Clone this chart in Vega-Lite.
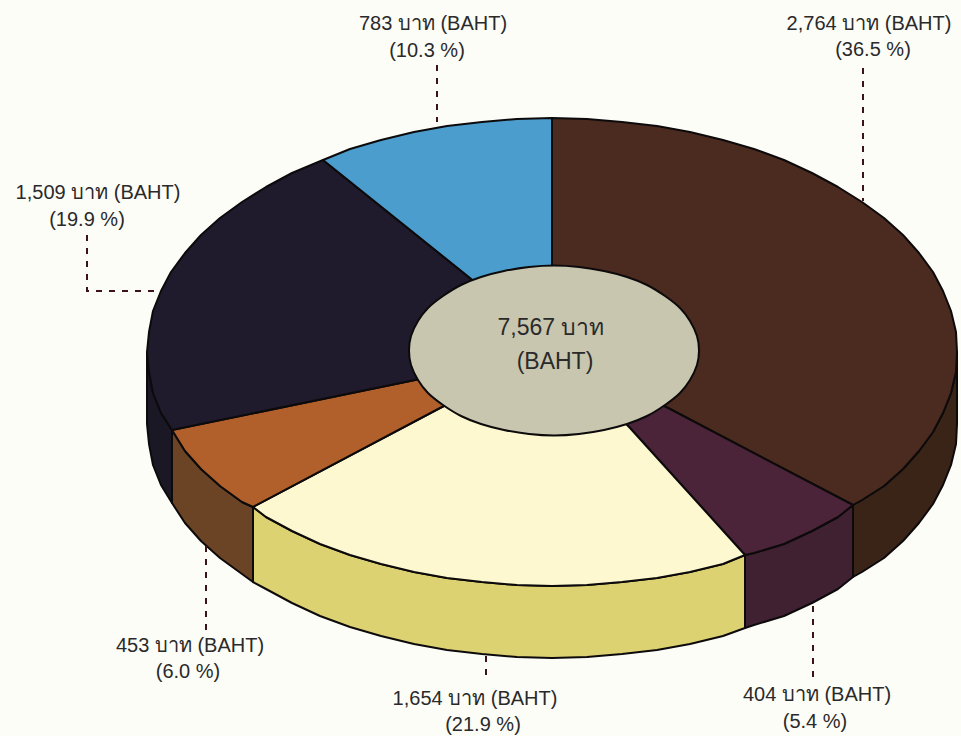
{"$schema":"https://vega.github.io/schema/vega-lite/v6.json","width":961,"height":736,"padding":0,"autosize":"none","background":"#fdfdf8","view":{"stroke":null},
"datasets":{
"shapes":[
{"s":"navy wall","n":0,"x":172,"y":430},{"s":"navy wall","n":1,"x":161,"y":413},{"s":"navy wall","n":2,"x":153,"y":393},{"s":"navy wall","n":3,"x":149,"y":372},{"s":"navy wall","n":4,"x":147,"y":352},{"s":"navy wall","n":5,"x":147,"y":424},{"s":"navy wall","n":6,"x":149,"y":444},{"s":"navy wall","n":7,"x":153,"y":465},{"s":"navy wall","n":8,"x":161,"y":485},{"s":"navy wall","n":9,"x":172,"y":503},
{"s":"orange wall","n":0,"x":253,"y":507},{"s":"orange wall","n":1,"x":242,"y":502},{"s":"orange wall","n":2,"x":220,"y":486},{"s":"orange wall","n":3,"x":201,"y":469},{"s":"orange wall","n":4,"x":185,"y":451},{"s":"orange wall","n":5,"x":172,"y":430},{"s":"orange wall","n":6,"x":172,"y":503},{"s":"orange wall","n":7,"x":185,"y":523},{"s":"orange wall","n":8,"x":201,"y":541},{"s":"orange wall","n":9,"x":220,"y":558},{"s":"orange wall","n":10,"x":242,"y":574},{"s":"orange wall","n":11,"x":253,"y":582},
{"s":"cream wall","n":0,"x":745,"y":555},{"s":"cream wall","n":1,"x":723,"y":564},{"s":"cream wall","n":2,"x":690,"y":572},{"s":"cream wall","n":3,"x":657,"y":578},{"s":"cream wall","n":4,"x":622,"y":582},{"s":"cream wall","n":5,"x":587,"y":585},{"s":"cream wall","n":6,"x":552,"y":586},{"s":"cream wall","n":7,"x":517,"y":585},{"s":"cream wall","n":8,"x":482,"y":582},{"s":"cream wall","n":9,"x":447,"y":578},{"s":"cream wall","n":10,"x":414,"y":572},{"s":"cream wall","n":11,"x":381,"y":564},{"s":"cream wall","n":12,"x":350,"y":555},{"s":"cream wall","n":13,"x":320,"y":544},{"s":"cream wall","n":14,"x":292,"y":531},{"s":"cream wall","n":15,"x":266,"y":517},{"s":"cream wall","n":16,"x":253,"y":507},{"s":"cream wall","n":17,"x":253,"y":582},{"s":"cream wall","n":18,"x":266,"y":589},{"s":"cream wall","n":19,"x":292,"y":603},{"s":"cream wall","n":20,"x":320,"y":616},{"s":"cream wall","n":21,"x":350,"y":627},{"s":"cream wall","n":22,"x":381,"y":636},{"s":"cream wall","n":23,"x":414,"y":644},{"s":"cream wall","n":24,"x":447,"y":650},{"s":"cream wall","n":25,"x":482,"y":654},{"s":"cream wall","n":26,"x":517,"y":657},{"s":"cream wall","n":27,"x":552,"y":658},{"s":"cream wall","n":28,"x":587,"y":657},{"s":"cream wall","n":29,"x":622,"y":654},{"s":"cream wall","n":30,"x":657,"y":650},{"s":"cream wall","n":31,"x":690,"y":644},{"s":"cream wall","n":32,"x":723,"y":636},{"s":"cream wall","n":33,"x":745,"y":628},
{"s":"purple wall","n":0,"x":853,"y":505},{"s":"purple wall","n":1,"x":838,"y":517},{"s":"purple wall","n":2,"x":812,"y":531},{"s":"purple wall","n":3,"x":784,"y":544},{"s":"purple wall","n":4,"x":754,"y":553},{"s":"purple wall","n":5,"x":745,"y":555},{"s":"purple wall","n":6,"x":745,"y":628},{"s":"purple wall","n":7,"x":754,"y":625},{"s":"purple wall","n":8,"x":784,"y":616},{"s":"purple wall","n":9,"x":812,"y":603},{"s":"purple wall","n":10,"x":838,"y":589},{"s":"purple wall","n":11,"x":853,"y":577},
{"s":"brown wall","n":0,"x":957,"y":352},{"s":"brown wall","n":1,"x":956,"y":372},{"s":"brown wall","n":2,"x":951,"y":393},{"s":"brown wall","n":3,"x":943,"y":413},{"s":"brown wall","n":4,"x":933,"y":432},{"s":"brown wall","n":5,"x":919,"y":451},{"s":"brown wall","n":6,"x":903,"y":469},{"s":"brown wall","n":7,"x":884,"y":486},{"s":"brown wall","n":8,"x":862,"y":500},{"s":"brown wall","n":9,"x":853,"y":505},{"s":"brown wall","n":10,"x":853,"y":577},{"s":"brown wall","n":11,"x":862,"y":572},{"s":"brown wall","n":12,"x":884,"y":558},{"s":"brown wall","n":13,"x":903,"y":541},{"s":"brown wall","n":14,"x":919,"y":523},{"s":"brown wall","n":15,"x":933,"y":504},{"s":"brown wall","n":16,"x":943,"y":485},{"s":"brown wall","n":17,"x":951,"y":465},{"s":"brown wall","n":18,"x":956,"y":444},{"s":"brown wall","n":19,"x":957,"y":424},
{"s":"brown top","n":0,"x":552,"y":266},{"s":"brown top","n":1,"x":552,"y":118},{"s":"brown top","n":2,"x":587,"y":119},{"s":"brown top","n":3,"x":622,"y":122},{"s":"brown top","n":4,"x":657,"y":126},{"s":"brown top","n":5,"x":690,"y":132},{"s":"brown top","n":6,"x":723,"y":140},{"s":"brown top","n":7,"x":754,"y":149},{"s":"brown top","n":8,"x":784,"y":160},{"s":"brown top","n":9,"x":812,"y":173},{"s":"brown top","n":10,"x":838,"y":187},{"s":"brown top","n":11,"x":862,"y":202},{"s":"brown top","n":12,"x":884,"y":218},{"s":"brown top","n":13,"x":903,"y":235},{"s":"brown top","n":14,"x":919,"y":253},{"s":"brown top","n":15,"x":933,"y":272},{"s":"brown top","n":16,"x":943,"y":291},{"s":"brown top","n":17,"x":951,"y":311},{"s":"brown top","n":18,"x":956,"y":332},{"s":"brown top","n":19,"x":957,"y":352},{"s":"brown top","n":20,"x":956,"y":372},{"s":"brown top","n":21,"x":951,"y":393},{"s":"brown top","n":22,"x":943,"y":413},{"s":"brown top","n":23,"x":933,"y":432},{"s":"brown top","n":24,"x":919,"y":451},{"s":"brown top","n":25,"x":903,"y":469},{"s":"brown top","n":26,"x":884,"y":486},{"s":"brown top","n":27,"x":862,"y":500},{"s":"brown top","n":28,"x":853,"y":505},{"s":"brown top","n":29,"x":670,"y":409},{"s":"brown top","n":30,"x":554,"y":350},
{"s":"purple top","n":0,"x":670,"y":409},{"s":"purple top","n":1,"x":853,"y":505},{"s":"purple top","n":2,"x":838,"y":517},{"s":"purple top","n":3,"x":812,"y":531},{"s":"purple top","n":4,"x":784,"y":544},{"s":"purple top","n":5,"x":754,"y":553},{"s":"purple top","n":6,"x":745,"y":555},{"s":"purple top","n":7,"x":630,"y":428},{"s":"purple top","n":8,"x":554,"y":350},
{"s":"cream top","n":0,"x":630,"y":428},{"s":"cream top","n":1,"x":745,"y":555},{"s":"cream top","n":2,"x":723,"y":564},{"s":"cream top","n":3,"x":690,"y":572},{"s":"cream top","n":4,"x":657,"y":578},{"s":"cream top","n":5,"x":622,"y":582},{"s":"cream top","n":6,"x":587,"y":585},{"s":"cream top","n":7,"x":552,"y":586},{"s":"cream top","n":8,"x":517,"y":585},{"s":"cream top","n":9,"x":482,"y":582},{"s":"cream top","n":10,"x":447,"y":578},{"s":"cream top","n":11,"x":414,"y":572},{"s":"cream top","n":12,"x":381,"y":564},{"s":"cream top","n":13,"x":350,"y":555},{"s":"cream top","n":14,"x":320,"y":544},{"s":"cream top","n":15,"x":292,"y":531},{"s":"cream top","n":16,"x":266,"y":517},{"s":"cream top","n":17,"x":253,"y":507},{"s":"cream top","n":18,"x":440,"y":408},{"s":"cream top","n":19,"x":554,"y":350},
{"s":"orange top","n":0,"x":440,"y":408},{"s":"orange top","n":1,"x":253,"y":507},{"s":"orange top","n":2,"x":242,"y":502},{"s":"orange top","n":3,"x":220,"y":486},{"s":"orange top","n":4,"x":201,"y":469},{"s":"orange top","n":5,"x":185,"y":451},{"s":"orange top","n":6,"x":172,"y":430},{"s":"orange top","n":7,"x":415,"y":380},{"s":"orange top","n":8,"x":554,"y":350},
{"s":"navy top","n":0,"x":415,"y":380},{"s":"navy top","n":1,"x":172,"y":430},{"s":"navy top","n":2,"x":161,"y":413},{"s":"navy top","n":3,"x":153,"y":393},{"s":"navy top","n":4,"x":149,"y":372},{"s":"navy top","n":5,"x":147,"y":352},{"s":"navy top","n":6,"x":149,"y":332},{"s":"navy top","n":7,"x":153,"y":311},{"s":"navy top","n":8,"x":161,"y":291},{"s":"navy top","n":9,"x":171,"y":272},{"s":"navy top","n":10,"x":185,"y":253},{"s":"navy top","n":11,"x":201,"y":235},{"s":"navy top","n":12,"x":220,"y":218},{"s":"navy top","n":13,"x":242,"y":202},{"s":"navy top","n":14,"x":266,"y":187},{"s":"navy top","n":15,"x":292,"y":173},{"s":"navy top","n":16,"x":323,"y":160},{"s":"navy top","n":17,"x":470,"y":278},{"s":"navy top","n":18,"x":554,"y":350},
{"s":"blue top","n":0,"x":470,"y":278},{"s":"blue top","n":1,"x":323,"y":160},{"s":"blue top","n":2,"x":350,"y":149},{"s":"blue top","n":3,"x":381,"y":140},{"s":"blue top","n":4,"x":414,"y":132},{"s":"blue top","n":5,"x":447,"y":126},{"s":"blue top","n":6,"x":482,"y":122},{"s":"blue top","n":7,"x":517,"y":119},{"s":"blue top","n":8,"x":552,"y":118},{"s":"blue top","n":9,"x":552,"y":266},{"s":"blue top","n":10,"x":554,"y":350}
],
"hub":[
{"s":"hub","n":0,"x":554,"y":265.5},{"s":"hub","n":1,"x":579,"y":267},{"s":"hub","n":2,"x":604,"y":271},{"s":"hub","n":3,"x":627,"y":277},{"s":"hub","n":4,"x":647,"y":285},{"s":"hub","n":5,"x":665,"y":296},{"s":"hub","n":6,"x":680,"y":308},{"s":"hub","n":7,"x":690,"y":321},{"s":"hub","n":8,"x":697,"y":336},{"s":"hub","n":9,"x":699,"y":350.5},{"s":"hub","n":10,"x":697,"y":365},{"s":"hub","n":11,"x":690,"y":380},{"s":"hub","n":12,"x":680,"y":393},{"s":"hub","n":13,"x":665,"y":405},{"s":"hub","n":14,"x":647,"y":416},{"s":"hub","n":15,"x":627,"y":424},{"s":"hub","n":16,"x":604,"y":430},{"s":"hub","n":17,"x":579,"y":434},{"s":"hub","n":18,"x":554,"y":435.5},{"s":"hub","n":19,"x":529,"y":434},{"s":"hub","n":20,"x":504,"y":430},{"s":"hub","n":21,"x":481,"y":424},{"s":"hub","n":22,"x":461,"y":416},{"s":"hub","n":23,"x":443,"y":405},{"s":"hub","n":24,"x":428,"y":393},{"s":"hub","n":25,"x":418,"y":380},{"s":"hub","n":26,"x":411,"y":365},{"s":"hub","n":27,"x":409,"y":350.5},{"s":"hub","n":28,"x":411,"y":336},{"s":"hub","n":29,"x":418,"y":321},{"s":"hub","n":30,"x":428,"y":308},{"s":"hub","n":31,"x":443,"y":296},{"s":"hub","n":32,"x":461,"y":285},{"s":"hub","n":33,"x":481,"y":277},{"s":"hub","n":34,"x":504,"y":271},{"s":"hub","n":35,"x":529,"y":267}
],
"leaders":[
{"s":"blue","n":0,"x":437,"y":65},{"s":"blue","n":1,"x":437,"y":122},
{"s":"brown","n":0,"x":863,"y":68},{"s":"brown","n":1,"x":863,"y":201},
{"s":"navy","n":0,"x":87,"y":235},{"s":"navy","n":1,"x":87,"y":291},{"s":"navy","n":2,"x":161,"y":291},
{"s":"orange","n":0,"x":206,"y":546},{"s":"orange","n":1,"x":206,"y":630},
{"s":"cream","n":0,"x":486,"y":656},{"s":"cream","n":1,"x":486,"y":682},
{"s":"purple","n":0,"x":813,"y":606},{"s":"purple","n":1,"x":813,"y":682}
],
"labels":[
{"label":"783 บาท (BAHT)","x":433,"y":24,"big":"n"},{"label":"(10.3 %)","x":427,"y":51,"big":"n"},
{"label":"2,764 บาท (BAHT)","x":869,"y":24,"big":"n"},{"label":"(36.5 %)","x":873,"y":50,"big":"n"},
{"label":"1,509 บาท (BAHT)","x":98,"y":193,"big":"n"},{"label":"(19.9 %)","x":87,"y":220,"big":"n"},
{"label":"453 บาท (BAHT)","x":190,"y":646,"big":"n"},{"label":"(6.0 %)","x":188,"y":672,"big":"n"},
{"label":"1,654 บาท (BAHT)","x":475,"y":699,"big":"n"},{"label":"(21.9 %)","x":483,"y":725,"big":"n"},
{"label":"404 บาท (BAHT)","x":817,"y":695,"big":"n"},{"label":"(5.4 %)","x":815,"y":722,"big":"n"},
{"label":"7,567 บาท","x":551,"y":328,"big":"y"},{"label":"(BAHT)","x":555,"y":362,"big":"y"}
]},
"layer":[
{"data":{"name":"shapes"},"mark":{"type":"line","filled":true,"interpolate":"linear-closed","stroke":"#0d0a0c","strokeWidth":2,"strokeJoin":"round"},
"encoding":{"x":{"field":"x","type":"quantitative","scale":{"domain":[0,961],"nice":false,"zero":false},"axis":null},"y":{"field":"y","type":"quantitative","scale":{"domain":[736,0],"nice":false,"zero":false},"axis":null},"order":{"field":"n","type":"quantitative"},
"fill":{"field":"s","type":"nominal","legend":null,"scale":{"domain":["navy wall","orange wall","cream wall","purple wall","brown wall","brown top","purple top","cream top","orange top","navy top","blue top"],"range":["#1b1826","#6b4426","#ddd272","#3f2131","#3a2317","#4b2b20","#4b2439","#fdf8cf","#b1602c","#1f1b2d","#4b9dcd"]}}}},
{"data":{"name":"hub"},"mark":{"type":"line","filled":true,"interpolate":"cardinal-closed","fill":"#c9c6af","stroke":"#0d0a0c","strokeWidth":2},
"encoding":{"x":{"field":"x","type":"quantitative"},"y":{"field":"y","type":"quantitative"},"order":{"field":"n","type":"quantitative"}}},
{"data":{"name":"leaders"},"mark":{"type":"line","stroke":"#3c1418","strokeWidth":2,"strokeDash":[6,7]},
"encoding":{"x":{"field":"x","type":"quantitative"},"y":{"field":"y","type":"quantitative"},"detail":{"field":"s"},"order":{"field":"n","type":"quantitative"}}},
{"data":{"name":"labels"},"mark":{"type":"text","font":"Liberation Sans","align":"center","baseline":"middle","color":"#2a2a2a"},
"encoding":{"x":{"field":"x","type":"quantitative"},"y":{"field":"y","type":"quantitative"},"text":{"field":"label"},
"size":{"field":"big","type":"nominal","legend":null,"scale":{"domain":["n","y"],"range":[20,23]}}}}
],
"resolve":{"scale":{"fill":"independent"}}
}
